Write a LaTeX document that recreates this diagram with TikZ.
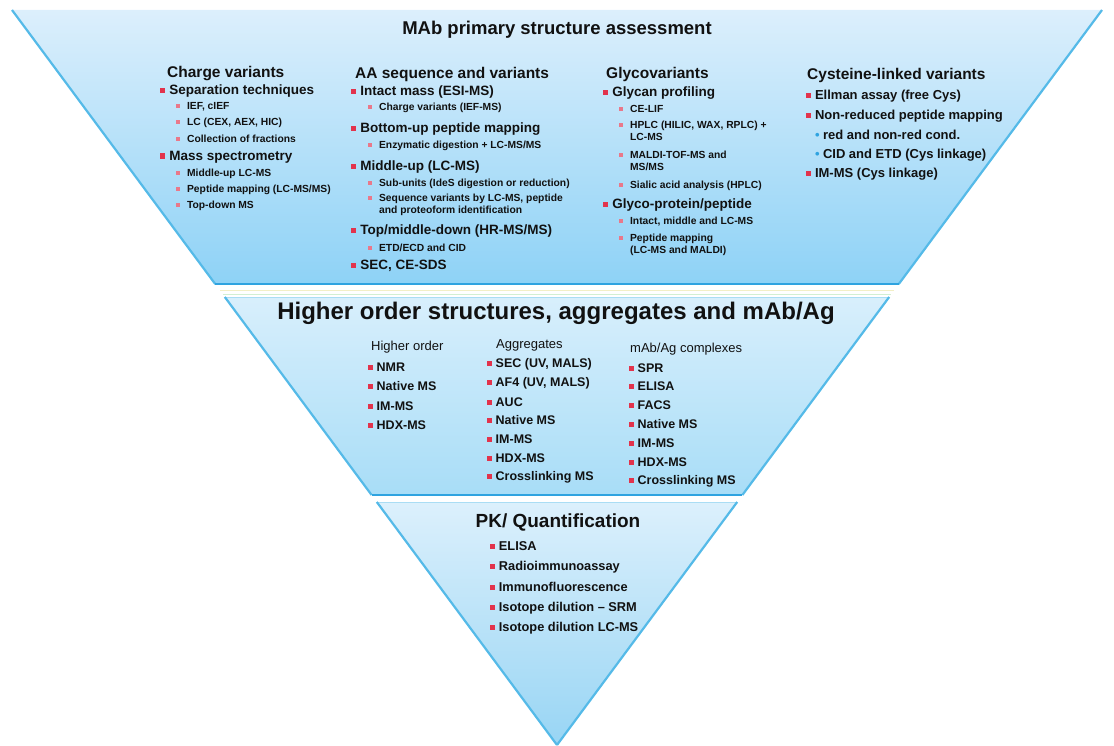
\documentclass[tikz,border=0pt]{standalone}
\usepackage{fontspec}
\setmainfont{Liberation Sans}
\definecolor{bonetop}{HTML}{DCEFFC}
\definecolor{bonebot}{HTML}{8ED2F6}
\definecolor{btwotop}{HTML}{D8EFFC}
\definecolor{btwobot}{HTML}{A8DDF7}
\definecolor{bthrtop}{HTML}{DCF0FC}
\definecolor{bthrbot}{HTML}{98D5F4}
\definecolor{edgeblue}{HTML}{55BAE8}
\definecolor{sepblue}{HTML}{2FA3E0}
\definecolor{bulred}{HTML}{E2334C}
\definecolor{bulpink}{HTML}{E9788A}
\definecolor{txt}{HTML}{111111}
\definecolor{glowy}{HTML}{F3EFC6}
\definecolor{glowg}{HTML}{D3EFD2}
\newcommand\bA{\textcolor{bulred}{\rule[0.12em]{0.38em}{0.38em}}\hspace{0.3em}}
\newcommand\bB{\textcolor{bulpink}{\rule[0.18em]{0.36em}{0.36em}}\hspace{0.7em}}
\newcommand\bC{\textcolor{sepblue}{\textbullet}\hspace{0.25em}}
\tikzset{
  bigtitle/.style={font=\bfseries\fontsize{18.5}{20}\selectfont, text=txt, inner sep=0},
  pktitle/.style={font=\bfseries\fontsize{19}{21}\selectfont, text=txt, inner sep=0},
  midtitle/.style={font=\bfseries\fontsize{24}{26}\selectfont, text=txt, inner sep=0},
  hd/.style={anchor=west, font=\bfseries\fontsize{15.5}{17}\selectfont, text=txt, inner sep=0},
  hdb/.style={anchor=west, font=\fontsize{13}{14}\selectfont, text=txt, inner sep=0},
  lone/.style={anchor=west, font=\bfseries\fontsize{13.5}{14}\selectfont, text=txt, inner sep=0},
  ltwo/.style={anchor=west, font=\bfseries\fontsize{10.3}{12}\selectfont, text=txt, inner sep=0, align=left},
  lcys/.style={anchor=west, font=\bfseries\fontsize{13}{14}\selectfont, text=txt, inner sep=0},
  lmid/.style={anchor=west, font=\bfseries\fontsize{12.5}{14}\selectfont, text=txt, inner sep=0},
  lpk/.style={anchor=west, font=\bfseries\fontsize{12.8}{14}\selectfont, text=txt, inner sep=0},
  edge/.style={draw=edgeblue, line width=2.2pt},
  sep/.style={draw=sepblue, line width=2pt},
}
\begin{document}
\begin{tikzpicture}[x=1pt,y=-1pt]
\useasboundingbox (0,0) rectangle (1114,746);
% bands
\shade[top color=bonetop,bottom color=bonebot] (12,10) -- (1102,10) -- (898.8,284) -- (215.2,284) -- cycle;
\shade[top color=btwotop,bottom color=btwobot] (224.8,297) -- (889.2,297) -- (742.4,495) -- (371.6,495) -- cycle;
\shade[top color=bthrtop,bottom color=bthrbot] (376.8,502) -- (737.2,502) -- (557,745) -- cycle;
% outlines
\coordinate (tl) at (12,10);
\coordinate (tr) at (1102,10);
\coordinate (b1l) at (215.2,284);
\coordinate (b1r) at (898.8,284);
\coordinate (g1l) at (220,290.5);
\coordinate (g1r) at (894,290.5);
\coordinate (g2l) at (223,294.5);
\coordinate (g2r) at (891,294.5);
\coordinate (b2tl) at (224.8,297);
\coordinate (b2tr) at (889.2,297);
\coordinate (b2l) at (371.6,495);
\coordinate (b2r) at (742.4,495);
\coordinate (b3l) at (376.8,502);
\coordinate (b3r) at (737.2,502);
\coordinate (apex) at (557,745);
\draw[edge] (tl) -- (b1l);
\draw[edge] (tr) -- (b1r);
\draw[sep] (b1l) -- (b1r);
\draw[glowy, line width=1.5pt] (g1l) -- (g1r);
\draw[glowg, line width=1.5pt] (g2l) -- (g2r);
\draw[edgeblue!50, line width=1pt] (b2tl) -- (b2tr);
\draw[edge] (b2tl) -- (b2l);
\draw[edge] (b2tr) -- (b2r);
\draw[sep] (b2l) -- (b2r);
\draw[edgeblue!50, line width=1pt] (b3l) -- (b3r);
\draw[edge] (b3l) -- (apex);
\draw[edge] (b3r) -- (apex);

% ---------- band 1 ----------
\node[bigtitle] (t1) at (557,30) {MAb primary structure assessment};

\node[hd] (h1) at (167,74) {Charge variants};
\node[lone] (c1a) at (160,91) {\bA Separation techniques};
\node[ltwo] (c1a1) at (176,107) {\bB IEF, cIEF};
\node[ltwo] (c1a2) at (176,123) {\bB LC (CEX, AEX, HIC)};
\node[ltwo] (c1a3) at (176,139) {\bB Collection of fractions};
\node[lone] (c1b) at (160,157) {\bA Mass spectrometry};
\node[ltwo] (c1b1) at (176,174) {\bB Middle-up LC-MS};
\node[ltwo] (c1b2) at (176,190) {\bB Peptide mapping (LC-MS/MS)};
\node[ltwo] (c1b3) at (176,206) {\bB Top-down MS};

\node[hd] (h2) at (355,74) {AA sequence and variants};
\node[lone] (c2a) at (351,92) {\bA Intact mass (ESI-MS)};
\node[ltwo] (c2a1) at (368,108) {\bB Charge variants (IEF-MS)};
\node[lone] (c2b) at (351,129) {\bA Bottom-up peptide mapping};
\node[ltwo] (c2b1) at (368,146) {\bB Enzymatic digestion + LC-MS/MS};
\node[lone] (c2c) at (351,167) {\bA Middle-up (LC-MS)};
\node[ltwo] (c2c1) at (368,184) {\bB Sub-units (IdeS digestion or reduction)};
\node[ltwo] (c2c2) at (368,205) {\bB\begin{tabular}[t]{@{}l@{}}Sequence variants by LC-MS, peptide\\and proteoform identification\end{tabular}};
\node[lone] (c2d) at (351,231) {\bA Top/middle-down (HR-MS/MS)};
\node[ltwo] (c2d1) at (368,248) {\bB ETD/ECD and CID};
\node[lone] (c2e) at (351,266) {\bA SEC, CE-SDS};

\node[hd] (h3) at (606,74) {Glycovariants};
\node[lone] (c3a) at (603,93) {\bA Glycan profiling};
\node[ltwo] (c3a1) at (619,109) {\bB CE-LIF};
\node[ltwo] (c3a2) at (619,132) {\bB\begin{tabular}[t]{@{}l@{}}HPLC (HILIC, WAX, RPLC) +\\LC-MS\end{tabular}};
\node[ltwo] (c3a3) at (619,162) {\bB\begin{tabular}[t]{@{}l@{}}MALDI-TOF-MS and\\MS/MS\end{tabular}};
\node[ltwo] (c3a4) at (619,186) {\bB Sialic acid analysis (HPLC)};
\node[lone] (c3b) at (603,205) {\bA Glyco-protein/peptide};
\node[ltwo] (c3b1) at (619,222) {\bB Intact, middle and LC-MS};
\node[ltwo] (c3b2) at (619,245) {\bB\begin{tabular}[t]{@{}l@{}}Peptide mapping\\(LC-MS and MALDI)\end{tabular}};

\node[hd] (h4) at (807,75) {Cysteine-linked variants};
\node[lcys] (c4a) at (806,96) {\bA Ellman assay (free Cys)};
\node[lcys] (c4b) at (806,116) {\bA Non-reduced peptide mapping};
\node[lcys] (c4b1) at (815,135) {\bC red and non-red cond.};
\node[lcys] (c4b2) at (815,155) {\bC CID and ETD (Cys linkage)};
\node[lcys] (c4c) at (806,174) {\bA IM-MS (Cys linkage)};

% ---------- band 2 ----------
\node[midtitle] (t2) at (556,313) {Higher order structures, aggregates and mAb/Ag};

\node[hdb] (h5) at (371,347) {Higher order};
\node[lmid] (d1) at (368,367) {\bA NMR};
\node[lmid] (d2) at (368,386) {\bA Native MS};
\node[lmid] (d3) at (368,406) {\bA IM-MS};
\node[lmid] (d4) at (368,425) {\bA HDX-MS};

\node[hdb] (h6) at (496,345) {Aggregates};
\node[lmid] (e1) at (487,364) {\bA SEC (UV, MALS)};
\node[lmid] (e2) at (487,383) {\bA AF4 (UV, MALS)};
\node[lmid] (e3) at (487,402) {\bA AUC};
\node[lmid] (e4) at (487,420) {\bA Native MS};
\node[lmid] (e5) at (487,439) {\bA IM-MS};
\node[lmid] (e6) at (487,458) {\bA HDX-MS};
\node[lmid] (e7) at (487,477) {\bA Crosslinking MS};

\node[hdb] (h7) at (630,349) {mAb/Ag complexes};
\node[lmid] (f1) at (629,368) {\bA SPR};
\node[lmid] (f2) at (629,386) {\bA ELISA};
\node[lmid] (f3) at (629,405) {\bA FACS};
\node[lmid] (f4) at (629,424) {\bA Native MS};
\node[lmid] (f5) at (629,443) {\bA IM-MS};
\node[lmid] (f6) at (629,462) {\bA HDX-MS};
\node[lmid] (f7) at (629,481) {\bA Crosslinking MS};

% ---------- band 3 ----------
\node[pktitle] (t3) at (558,522) {PK/ Quantification};
\node[lpk] (g1) at (490,546) {\bA ELISA};
\node[lpk] (g2) at (490,567) {\bA Radioimmunoassay};
\node[lpk] (g3) at (490,587) {\bA Immunofluorescence};
\node[lpk] (g4) at (490,608) {\bA Isotope dilution -- SRM};
\node[lpk] (g5) at (490,628) {\bA Isotope dilution LC-MS};
\end{tikzpicture}
\end{document}
